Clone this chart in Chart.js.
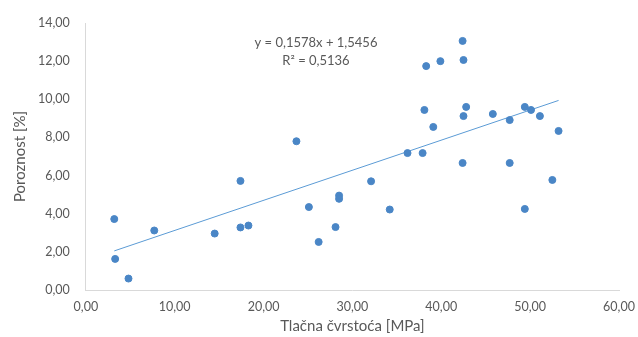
<!DOCTYPE html>
<html>
<head>
<meta charset="utf-8">
<script src="https://cdn.jsdelivr.net/npm/chart.js@4/dist/chart.umd.min.js"></script>
<style>
    body { margin: 0; background: #fff; }
    #wrap { width: 638px; height: 337px; }
</style>
</head>
<body>
<div id="wrap"><canvas id="myChart" width="638" height="337"></canvas></div>
<script>
let strength = [3.2, 3.3, 4.8, 7.7, 14.5, 17.4, 17.4, 18.3, 23.7, 25.1, 26.2, 28.1, 28.5, 28.5, 32.1, 34.2, 36.2, 37.9,
    38.1, 38.3, 39.1, 39.9, 42.4, 42.5, 42.5, 42.8, 42.4, 45.8, 47.7, 47.7, 49.4, 50.1, 51.1, 53.2, 49.4, 52.5];
let porosity = [3.72, 1.63, 0.6, 3.12, 2.96, 5.72, 3.28, 3.38, 7.8, 4.35, 2.52, 3.3, 4.95, 4.78, 5.7, 4.22, 7.18, 7.18,
    9.44, 11.74, 8.55, 12.0, 13.06, 12.06, 9.12, 9.6, 6.66, 9.23, 8.91, 6.66, 9.6, 9.44, 9.12, 8.34, 4.25, 5.77];
let trendX = [3.2, 53.2];
let trendY = [2.05, 9.94];
let equationText = ['y = 0,1578x + 1,5456', 'R² = 0,5136'];
let xTicks = [0, 10, 20, 30, 40, 50, 60];
let yTicks = [0, 2, 4, 6, 8, 10, 12, 14];

const textColor = '#595959';
const fontName = 'Lato, "Open Sans", sans-serif';


function formatNum(v) {
    return v.toFixed(2).replace('.', ',');
}


function getPoints(xs, ys) {
    return xs.map((x, i) => ({ x: x, y: ys[i] }));
}


const equationPlugin = {
    id: 'equation',
    afterDatasetsDraw(chart) {
        const ctx = chart.ctx;
        const xs = chart.scales.x;
        const ys = chart.scales.y;
        ctx.save();
        ctx.fillStyle = textColor;
        ctx.font = '13px ' + fontName;
        ctx.textAlign = 'center';
        ctx.textBaseline = 'middle';
        ctx.fillText(equationText[0], xs.getPixelForValue(25.9), ys.getPixelForValue(12.98));
        ctx.fillText(equationText[1], xs.getPixelForValue(25.9), ys.getPixelForValue(12.03));
        ctx.restore();
    }
};


function createChart() {
    const ctx = document.getElementById('myChart').getContext('2d');
    new Chart(ctx, {
        type: 'scatter',
        data: {
            datasets: [{
                data: getPoints(strength, porosity),
                backgroundColor: '#4a86c6',
                borderColor: '#4a86c6',
                pointRadius: 3.5,
                pointHoverRadius: 3.5,
                order: 1
            }, {
                type: 'line',
                data: getPoints(trendX, trendY),
                borderColor: '#5b9bd5',
                borderWidth: 1,
                pointRadius: 0,
                fill: false,
                order: 2
            }]
        },
        options: {
            responsive: false,
            animation: false,
            layout: { padding: { top: 23, right: 19, left: 7, bottom: 2 } },
            plugins: { legend: { display: false }, tooltip: { enabled: false } },
            scales: {
                x: {
                    type: 'linear',
                    min: 0,
                    max: 60,
                    afterBuildTicks: axis => { axis.ticks = xTicks.map(v => ({ value: v })); },
                    grid: { display: false },
                    border: { display: true, color: '#d9d9d9', width: 1 },
                    ticks: { color: textColor, font: { size: 12.5, family: fontName }, padding: 1, maxRotation: 0, callback: v => formatNum(v) },
                    title: { display: true, text: 'Tlačna čvrstoća [MPa]', color: textColor, font: { size: 15, family: fontName }, padding: { top: 2, bottom: 0 } }
                },
                y: {
                    min: 0,
                    max: 14,
                    afterBuildTicks: axis => { axis.ticks = yTicks.map(v => ({ value: v })); },
                    grid: { display: false },
                    border: { display: true, color: '#d9d9d9', width: 1 },
                    ticks: { color: textColor, font: { size: 12.5, family: fontName }, padding: 8, callback: v => formatNum(v) },
                    title: { display: true, text: 'Poroznost [%]', color: textColor, font: { size: 15, family: fontName }, padding: { bottom: 1 } }
                }
            }
        },
        plugins: [equationPlugin]
    });
}


createChart();
</script>
</body>
</html>
